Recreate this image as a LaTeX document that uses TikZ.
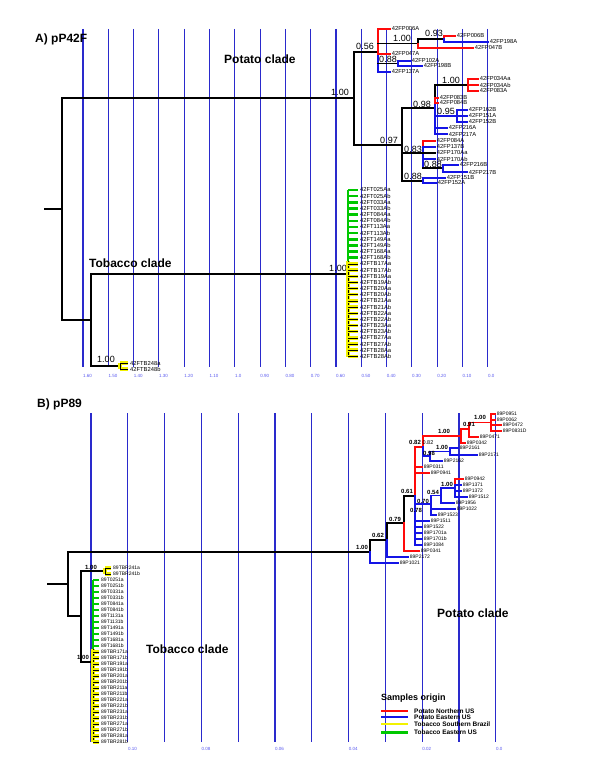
\documentclass[tikz,border=0pt]{standalone}
\usepackage{fontspec}
\setmainfont{Liberation Sans}
\setsansfont{Liberation Sans}
\definecolor{tred}{HTML}{FF0A0A}
\definecolor{tblue}{HTML}{1414E6}
\definecolor{tgreen}{HTML}{00C800}
\definecolor{tyellow}{HTML}{F2F200}
\definecolor{gridblue}{HTML}{2A2ACC}
\definecolor{tickblue}{HTML}{5A5AF0}
\tikzset{
 tr/.style={line width=1.8pt, line cap=rect},
 gridline/.style={draw=gridblue, line width=1.1pt},
 lblA/.style={font=\fontsize{5.8}{6}\selectfont, text=black, inner sep=1pt, anchor=west},
 lblB/.style={font=\fontsize{5}{5}\selectfont, text=black, inner sep=1pt, anchor=west},
 supA/.style={font=\fontsize{9}{9}\selectfont, inner sep=0pt},
 supB/.style={font=\bfseries\fontsize{6}{6}\selectfont, inner sep=0pt},
 ttl/.style={font=\bfseries\fontsize{12}{12}\selectfont, inner sep=0pt, anchor=west},
 tick/.style={font=\fontsize{4.5}{5}\selectfont, text=tickblue, inner sep=0pt, anchor=west},
 grn/.style={draw=tgreen, line width=2.6pt},
 yel/.style={draw=tyellow, line width=3.4pt},
 thinb/.style={draw=black, line width=0.6pt},
}
\newcommand\lfA[5]{\draw[tr,#1] (#2,#4) -- (#3,#4) node[lblA]{#5};}
\newcommand\lfB[5]{\draw[tr,#1] (#2,#4) -- (#3,#4) node[lblB]{#5};}
\begin{document}
\begin{tikzpicture}[x=1pt,y=-1pt]
\useasboundingbox (0,0) rectangle (600,776);
\fill[white] (0,0) rectangle (600,776);
% ---------- grids ----------
\foreach \t [count=\i from 0] in {1.60,1.50,1.40,1.30,1.20,1.10,1.0,0.90,0.80,0.70,0.60,0.50,0.40,0.30,0.20,0.10,0.0}{
  \pgfmathsetmacro\xx{83+25.3*\i}
  \draw[gridline] (\xx,29) -- (\xx,367);
  \node[tick] at (\xx,376) {\t};
}
\foreach \i in {0,...,11}{
  \pgfmathsetmacro\xx{91+36.8*\i}
  \draw[gridline] (\xx,413) -- (\xx,742);
}
\foreach \i/\t in {1/0.10,3/0.08,5/0.06,7/0.04,9/0.02,11/0.0}{
  \pgfmathsetmacro\xx{91+36.8*\i}
  \node[tick] at (\xx,749) {\t};
}
% ---------- titles ----------
\node[ttl] (tA) at (35,39) {A) pP42F};
\node[ttl] (tB) at (37,404) {B) pP89};
\node[ttl] (pcA) at (224,59) {Potato clade};
\node[ttl] (tcA) at (89,263) {Tobacco clade};
\node[ttl] (pcB) at (437,613) {Potato clade};
\node[ttl] (tcB) at (146,649) {Tobacco clade};
% ================= TREE A =================
\draw[tr] (45,209) -- (62,209);
\draw[tr] (62,98) -- (62,320);
\draw[tr] (62,98) -- (354,98);
\draw[tr] (62,320) -- (91,320);
\draw[tr] (91,274) -- (91,366);
\draw[tr] (91,274) -- (348,274);
\draw[tr] (91,366) -- (120,366);
% potato
\draw[tr] (354,52) -- (354,145);
\draw[tr] (354,52) -- (378,52);
\draw[tr] (354,145) -- (402,145);
\draw[tr,tred] (378,29) -- (378,54);
\draw[tr,tblue] (378,54) -- (378,72);
\lfA{tred}{378}{390}{29}{42FP006A}
\draw[tr] (378,43.5) -- (418,43.5);
\lfA{tred}{378}{390}{54}{42FP047A}
\draw[tr] (378,63.5) -- (398,63.5);
\lfA{tblue}{378}{390}{72}{42FP137A}
\draw[tr] (418,39) -- (418,43.5);
\draw[tr,tred] (418,43.5) -- (418,48);
\draw[tr] (418,39) -- (444,39);
\lfA{tred}{418}{473}{48}{42FP047B}
\draw[tr,tred] (444,36) -- (444,39);
\draw[tr,tblue] (444,39) -- (444,42);
\lfA{tred}{444}{455}{36}{42FP006B}
\lfA{tblue}{444}{488}{42}{42FP198A}
\draw[tr,tblue] (398,61) -- (398,66);
\lfA{tblue}{398}{410}{61}{42FP102A}
\lfA{tblue}{398}{422}{66}{42FP198B}
\draw[tr] (402,108) -- (402,181);
\draw[tr] (402,108) -- (435,108);
\draw[tr] (402,153) -- (423,153);
\draw[tr] (402,181) -- (423,181);
\draw[tr] (435,85) -- (435,98);
\draw[tr,tred] (435,98) -- (435,103);
\draw[tr,tblue] (435,103) -- (435,134);
\draw[tr] (435,85) -- (468,85);
\draw[tr,tred] (468,79) -- (468,91);
\lfA{tred}{468}{478}{79}{42FP034Aa}
\lfA{tred}{468}{478}{85}{42FP034Ab}
\lfA{tred}{468}{478}{91}{42FP083A}
\lfA{tred}{435}{438}{98}{42FP083B}
\lfA{tred}{435}{438}{103}{42FP084B}
\draw[tr,tblue] (435,116) -- (457,116);
\draw[tr,tblue] (457,110) -- (457,122);
\lfA{tblue}{457}{467}{110}{42FP162B}
\lfA{tblue}{457}{467}{116}{42FP151A}
\lfA{tblue}{457}{467}{122}{42FP152B}
\lfA{tblue}{435}{447}{128}{42FP216A}
\lfA{tblue}{435}{447}{134}{42FP217A}
\draw[tr,tred] (423,141) -- (423,147);
\draw[tr,tblue] (423,147) -- (423,168);
\lfA{tred}{423}{435}{141}{42FP084A}
\lfA{tblue}{423}{435}{147}{42FP137B}
\lfA{black}{423}{435}{153}{42FP170Aa}
\lfA{tblue}{423}{435}{159}{42FP170Ab}
\draw[tr] (423,168) -- (443,168);
\draw[tr,tblue] (443,165) -- (443,172);
\lfA{tblue}{443}{458}{165}{42FP216B}
\lfA{tblue}{443}{467}{172}{42FP217B}
\draw[tr,tblue] (423,178) -- (423,183);
\lfA{tblue}{423}{445}{178}{42FP151B}
\lfA{tblue}{423}{436}{183}{42FP152A}
% support A
\node[supA] at (340,92) {1.00};
\node[supA] at (365,46) {0.56};
\node[supA] at (402,38) {1.00};
\node[supA] at (434,33) {0.93};
\node[supA] at (388,59) {0.88};
\node[supA] at (389,140) {0.97};
\node[supA] at (422,104) {0.98};
\node[supA] at (451,80) {1.00};
\node[supA] at (446,111) {0.95};
\node[supA] at (413,149) {0.83};
\node[supA] at (433,164) {0.88};
\node[supA] at (413,176) {0.88};
\node[supA] at (338,268) {1.00};
\node[supA] at (106,359) {1.00};
% tobacco A
\draw[grn] (348,190) -- (348,261);
\draw[yel] (348,261) -- (348,357);
\draw[thinb] (348,261) -- (348,357);
\foreach \t [count=\i from 0] in {42FT025Aa,42FT025Ab,42FT033Aa,42FT033Ab,42FT084Aa,42FT084Ab,42FT113Aa,42FT113Ab,42FT149Aa,42FT149Ab,42FT168Aa,42FT168Ab}{
  \pgfmathsetmacro\yy{190+6.16*\i}
  \draw[grn] (348,\yy) -- (358,\yy);
  \node[lblA] at (359,\yy) {\t};
}
\foreach \t [count=\i from 12] in {42FTB17Aa,42FTB17Ab,42FTB19Aa,42FTB19Ab,42FTB20Aa,42FTB20Ab,42FTB21Aa,42FTB21Ab,42FTB22Aa,42FTB22Ab,42FTB23Aa,42FTB23Ab,42FTB27Aa,42FTB27Ab,42FTB28Aa,42FTB28Ab}{
  \pgfmathsetmacro\yy{190+6.16*\i}
  \draw[yel] (348,\yy) -- (358,\yy);
  \draw[thinb] (348,\yy) -- (358,\yy);
  \node[lblA] at (359,\yy) {\t};
}
\draw[yel] (120,363) -- (120,369) (120,363) -- (128,363) (120,369) -- (128,369);
\draw[thinb] (120,363) -- (120,369) (120,363) -- (128,363) (120,369) -- (128,369);
\node[lblA] at (129,363) {42FTB248a};
\node[lblA] at (129,369) {42FTB248b};
% ================= TREE B =================
\draw[tr] (48,584) -- (68,584);
\draw[tr] (68,552) -- (68,616);
\draw[tr] (68,552) -- (370,552);
\draw[tr] (68,616) -- (81,616);
\draw[tr] (81,571) -- (81,662);
\draw[tr] (81,571) -- (105,571);
\draw[tr] (81,662) -- (93,662);
\draw[yel] (105,568) -- (105,574) (105,568) -- (111,568) (105,574) -- (111,574);
\draw[thinb] (105,568) -- (105,574) (105,568) -- (111,568) (105,574) -- (111,574);
\node[lblB] at (112,568) {89TBR241a};
\node[lblB] at (112,574) {89TBR241b};
\draw[grn] (93,580) -- (93,649);
\draw[yel] (93,649) -- (93,742);
\draw[thinb] (93,649) -- (93,742);
\foreach \t [count=\i from 0] in {89T0251a,89T0251b,89T0331a,89T0331b,89T0841a,89T0841b,89T1131a,89T1131b,89T1491a,89T1491b,89T1681a,89T1681b}{
  \pgfmathsetmacro\yy{580+6*\i}
  \draw[grn] (93,\yy) -- (99,\yy);
  \node[lblB] at (100,\yy) {\t};
}
\foreach \t [count=\i from 12] in {89TBR171a,89TBR171b,89TBR191a,89TBR191b,89TBR201a,89TBR201b,89TBR211a,89TBR211b,89TBR221a,89TBR221b,89TBR231a,89TBR231b,89TBR271a,89TBR271b,89TBR281a,89TBR281b}{
  \pgfmathsetmacro\yy{580+6*\i}
  \draw[yel] (93,\yy) -- (99,\yy);
  \draw[thinb] (93,\yy) -- (99,\yy);
  \node[lblB] at (100,\yy) {\t};
}
% potato B
\draw[tr] (370,540) -- (370,552);
\draw[tr,tblue] (370,552) -- (370,563);
\draw[tr] (370,540) -- (387,540);
\lfB{tblue}{370}{398}{563}{89P1021}
\draw[tr] (387,523) -- (387,540);
\draw[tr,tblue] (387,540) -- (387,557);
\draw[tr] (387,523) -- (404,523);
\lfB{tblue}{387}{408}{557}{89P2172}
\draw[tr] (404,496) -- (404,523);
\draw[tr,tred] (404,523) -- (404,551);
\draw[tr] (404,496) -- (415,496);
\lfB{tred}{404}{419}{551}{89P0341}
\draw[tr,tred] (415,447) -- (415,496);
\draw[tr,tblue] (415,496) -- (415,545);
\draw[tr,tred] (415,447) -- (423,447);
\lfB{tred}{415}{422}{467}{89P0311}
\lfB{tred}{415}{429}{473}{89P0941}
\draw[tr,tblue] (415,504) -- (431,504);
\lfB{tblue}{415}{429}{521}{89P1511}
\lfB{tblue}{415}{422}{527}{89P1522}
\lfB{tblue}{415}{422}{533}{89P1701a}
\lfB{tblue}{415}{422}{539}{89P1701b}
\lfB{tblue}{415}{422}{545}{89P1084}
\draw[tr,tblue] (431,495.5) -- (431,515);
\draw[tr,tblue] (431,495.5) -- (441,495.5);
\lfB{tblue}{431}{455}{509}{89P1022}
\lfB{tblue}{431}{436}{515}{89P1523}
\draw[tr,tblue] (441,488) -- (441,503);
\draw[tr,tblue] (441,488) -- (455,488);
\lfB{tblue}{441}{454}{503}{89P1956}
\draw[tr,tred] (455,479) -- (455,485);
\draw[tr,tblue] (455,485) -- (455,497);
\lfB{tred}{455}{463}{479}{89P0942}
\lfB{tblue}{455}{461}{485}{89P1371}
\lfB{tblue}{455}{461}{491}{89P1372}
\lfB{tblue}{455}{467}{497}{89P1512}
\draw[tr,tred] (423,436) -- (423,447);
\draw[tr,tblue] (423,447) -- (423,456);
\draw[tr,tred] (423,436) -- (461,436);
\draw[tr,tblue] (423,456) -- (430,456);
\draw[tr,tblue] (430,451.5) -- (430,461);
\draw[tr,tblue] (430,451.5) -- (450,451.5);
\lfB{tblue}{430}{442}{461}{89P2162}
\draw[tr,tblue] (450,448) -- (450,455);
\lfB{tblue}{450}{458}{448}{89P2161}
\lfB{tblue}{450}{477}{455}{89P2171}
\draw[tr,tred] (461,429) -- (461,443);
\draw[tr,tred] (461,429) -- (469,429);
\lfB{tred}{461}{465}{443}{89P0342}
\draw[tr,tred] (469,422.5) -- (469,437);
\draw[tr,tred] (469,422.5) -- (491,422.5);
\lfB{tred}{469}{478}{437}{89P0471}
\draw[tr,tred] (491,414) -- (491,431);
\lfB{tred}{491}{495}{414}{89P0951}
\lfB{tred}{491}{495}{420}{89P0062}
\lfB{tred}{491}{501}{425}{89P0472}
\lfB{tred}{491}{501}{431}{89P0831D}
% support B
\node[supB] at (362,547) {1.00};
\node[supB] at (378,535) {0.62};
\node[supB] at (395,519) {0.79};
\node[supB] at (407,491) {0.61};
\node[supB] at (415,442) {0.82};
\node[font=\fontsize{5.5}{6}\selectfont, inner sep=0pt] at (428,443) {0.82};
\node[supB] at (429,453) {0.98};
\node[supB] at (442,447) {1.00};
\node[supB] at (444,431) {1.00};
\node[supB] at (469,424) {0.91};
\node[supB] at (480,417) {1.00};
\node[supB] at (416,510) {0.78};
\node[supB] at (423,501) {0.70};
\node[supB] at (433,492) {0.54};
\node[supB] at (447,484) {1.00};
\node[supB] at (83,657) {1.00};
\node[supB] at (91,567) {1.00};
% ---------- legend ----------
\node[font=\bfseries\fontsize{9}{9}\selectfont, inner sep=0pt, anchor=west] (lg) at (381,698) {Samples origin};
\coordinate (l1a) at (381,711); \coordinate (l1b) at (408,711);
\coordinate (l2a) at (381,717); \coordinate (l2b) at (408,717);
\coordinate (l3a) at (381,724); \coordinate (l3b) at (408,724);
\coordinate (l4a) at (381,732); \coordinate (l4b) at (408,732);
\draw[tred, line width=1.8pt] (l1a) -- (l1b);
\draw[tblue, line width=1.8pt] (l2a) -- (l2b);
\draw[tyellow, line width=2.6pt] (l3a) -- (l3b);
\draw[tgreen, line width=3pt] (l4a) -- (l4b);
\begin{scope}[every node/.style={font=\bfseries\fontsize{6.5}{7}\selectfont, inner sep=0pt, anchor=west}]
\node (g1) at (414,711) {Potato Northern US};
\node (g2) at (414,717) {Potato Eastern US};
\node (g3) at (414,724) {Tobacco Southern Brazil};
\node (g4) at (414,732) {Tobacco Eastern US};
\end{scope}
\end{tikzpicture}
\end{document}
